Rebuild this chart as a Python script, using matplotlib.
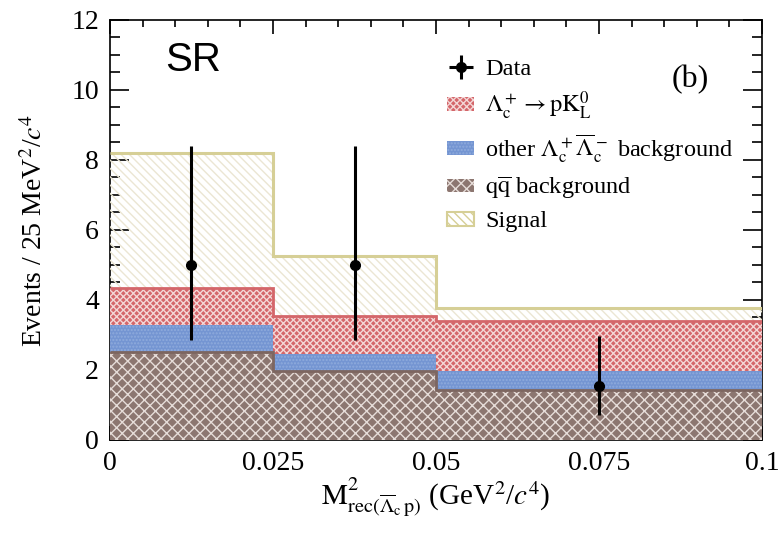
import numpy as np
import matplotlib
matplotlib.use("Agg")
import matplotlib.pyplot as plt
from matplotlib.patches import Patch
from matplotlib.ticker import MultipleLocator, FuncFormatter

plt.rcParams['font.family'] = ['Liberation Serif', 'DejaVu Serif']
plt.rcParams['mathtext.fontset'] = 'stix'
plt.rcParams['hatch.linewidth'] = 1.0

# bin edges in GeV^2/c^4
edges = [0.0, 0.025, 0.05, 0.1]
# stacked components (per bin)
qqbar = [2.51, 1.97, 1.43]
other_bkg = [0.78, 0.49, 0.54]
pk0l = [1.05, 1.08, 1.43]
signal = [3.86, 1.72, 0.37]

# data points
data_x = [0.0125, 0.0375, 0.075]
data_y = [5.0, 5.0, 1.53]
err_lo = [2.15, 2.15, 0.81]
err_hi = [3.4, 3.4, 1.45]

fig = plt.figure(figsize=(7.8, 5.33), dpi=100)
ax = fig.add_axes([0.141, 0.1745, 0.836, 0.788])

c_brown = '#8c7670'
c_blue = '#7495d2'
c_red = '#d4666a'
c_sig = '#d6cf96'

b0 = np.zeros(3)
b1 = b0 + qqbar
b2 = b1 + other_bkg
b3 = b2 + pk0l
b4 = b3 + signal

# signal (top of stack)
ax.stairs(b4, edges, baseline=b3, fill=True, facecolor='none',
          edgecolor='#ebe6d3', hatch='\\\\\\\\', linewidth=0, zorder=3)
ax.stairs(b4, edges, baseline=None, color=c_sig, linewidth=2.2, zorder=3)
# Lambda_c -> p K0L
ax.stairs(b3, edges, baseline=b2, fill=True, facecolor=c_red,
          edgecolor='#f3d6d6', hatch='xxxxx', linewidth=0, zorder=3)
ax.stairs(b3, edges, baseline=None, color=c_red, linewidth=2, zorder=3)
# other background
ax.stairs(b2, edges, baseline=b1, fill=True, facecolor=c_blue,
          edgecolor='#8fabdc', hatch='.....', linewidth=0, zorder=3)
# qqbar
ax.stairs(b1, edges, baseline=b0, fill=True, facecolor=c_brown,
          edgecolor='#e6dcd8', hatch='xxx', linewidth=0, zorder=3)
ax.stairs(b1, edges, baseline=None, color='#7d6660', linewidth=2, zorder=3)

eb = ax.errorbar(data_x, data_y, yerr=[err_lo, err_hi], xerr=0, fmt='o',
                 color='black', markersize=7, elinewidth=2.2, capsize=0,
                 zorder=5)

ax.set_xlim(0, 0.1)
ax.set_ylim(0, 12)
ax.xaxis.set_major_locator(MultipleLocator(0.025))
ax.xaxis.set_minor_locator(MultipleLocator(0.005))
ax.yaxis.set_major_locator(MultipleLocator(2))
ax.yaxis.set_minor_locator(MultipleLocator(0.5))
ax.xaxis.set_major_formatter(FuncFormatter(lambda v, p: '%g' % round(v, 4)))
ax.tick_params(which='both', direction='in', top=True, right=True,
               labelsize=20, width=1.2)
ax.tick_params(axis='y', which='major', length=14, pad=8)
ax.tick_params(axis='y', which='minor', length=7)
ax.tick_params(axis='x', which='major', length=10, pad=8)
ax.tick_params(axis='x', which='minor', length=5)
for s in ax.spines.values():
    s.set_linewidth(1.2)

ax.set_ylabel(r'Events / 25 MeV$^2$/$c^4$', fontsize=20)
ax.yaxis.set_label_coords(-0.095, 0.5)
ax.set_xlabel(r'$\mathrm{M}^2_{\mathrm{rec}(\overline{\Lambda}_\mathrm{c}\,\mathrm{p})}$ (GeV$^2$/$c^4$)',
              fontsize=21)
ax.xaxis.set_label_coords(0.5, -0.085)

ax.text(0.085, 0.905, 'SR', transform=ax.transAxes, fontsize=29,
        family='Liberation Sans', va='center')
ax.text(0.89, 0.857, '(b)', transform=ax.transAxes, fontsize=23,
        ha='center', va='center')

handles = [
    eb,
    Patch(facecolor=c_red, edgecolor='#f3d6d6', hatch='xxxxx', linewidth=0),
    Patch(facecolor=c_blue, edgecolor='#8fabdc', hatch='.....', linewidth=0),
    Patch(facecolor=c_brown, edgecolor='#e6dcd8', hatch='xxx', linewidth=0),
    Patch(facecolor='white', edgecolor=c_sig, hatch='\\\\\\\\', linewidth=1.5),
]
labels = ['Data',
          r'$\Lambda_\mathrm{c}^+ \rightarrow \mathrm{pK}^0_\mathrm{L}$',
          r'other $\Lambda_\mathrm{c}^+\overline{\Lambda}_\mathrm{c}^-$ background',
          r'$\mathrm{q}\overline{\mathrm{q}}$ background',
          'Signal']
ax.legend(handles, labels, loc='upper left', bbox_to_anchor=(0.484, 0.96),
          frameon=False, fontsize=17.5, handlelength=1.1, handleheight=0.5,
          handletextpad=0.45, labelspacing=0.42)

fig.savefig('out.png', dpi=100)
